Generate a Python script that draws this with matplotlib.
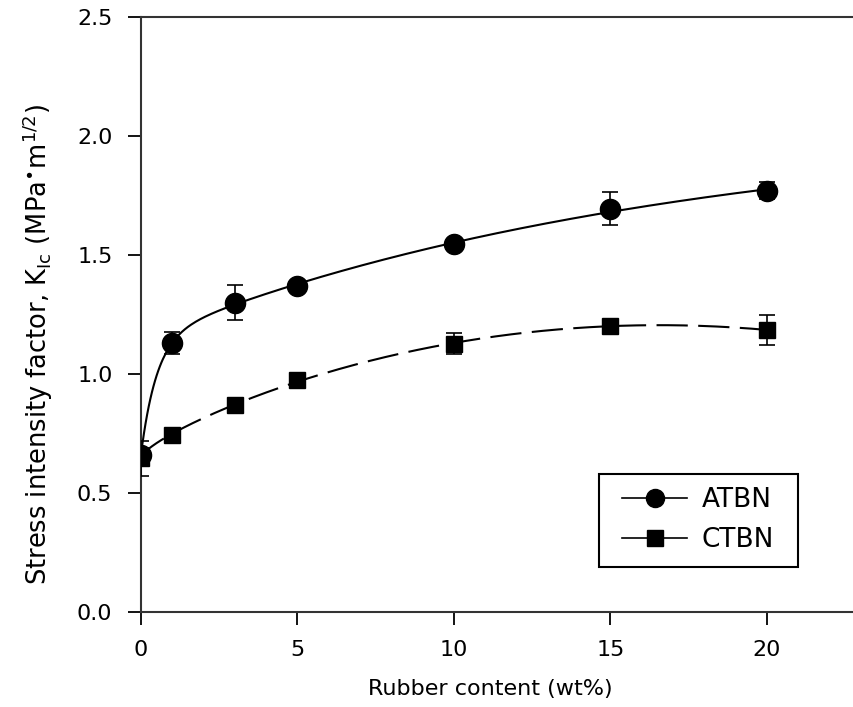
import numpy as np
import matplotlib
matplotlib.use("Agg")
import matplotlib.pyplot as plt
from matplotlib.patches import Rectangle

# rubber content (wt%)
rubber = [0, 1, 3, 5, 10, 15, 20]

# K_Ic values
atbn = [0.66, 1.13, 1.30, 1.37, 1.545, 1.695, 1.77]
atbn_err = [0.03, 0.045, 0.075, 0.02, 0.02, 0.07, 0.035]
ctbn = [0.645, 0.745, 0.87, 0.975, 1.127, 1.20, 1.186]
ctbn_err = [0.075, 0.02, 0.02, 0.02, 0.045, 0.02, 0.063]


def fit_rise(x, y):
    # double exponential rise to max: y0 + a(1-exp(-bx)) + c(1-exp(-dx))
    # rates by grid search, amplitudes by linear least squares
    x = np.asarray(x, dtype=float)
    y = np.asarray(y, dtype=float)
    best = None
    for b in np.linspace(0.3, 5, 95):
        for d in np.linspace(0.01, 0.3, 59):
            A = np.column_stack([np.ones_like(x), 1 - np.exp(-b * x), 1 - np.exp(-d * x)])
            coef, *_ = np.linalg.lstsq(A, y, rcond=None)
            err = np.sum((A @ coef - y) ** 2)
            if best is None or err < best[0]:
                best = (err, b, d, coef)
    _, b, d, coef = best
    xs = np.linspace(0, x.max(), 400)
    A = np.column_stack([np.ones_like(xs), 1 - np.exp(-b * xs), 1 - np.exp(-d * xs)])
    return xs, A @ coef


def fit_poly(x, y):
    # least squares trend line: a + b*sqrt(x) + c*x + d*x^2
    def basis(v):
        v = np.asarray(v, dtype=float)
        return np.column_stack([np.ones_like(v), np.sqrt(v), v, v ** 2])
    coef, *_ = np.linalg.lstsq(basis(x), np.asarray(y), rcond=None)
    xs = np.linspace(0, max(x), 400)
    return xs, basis(xs) @ coef


plt.rcParams["font.family"] = "DejaVu Sans"

fig = plt.figure(figsize=(8.54, 7.07), dpi=100)
ax = fig.add_axes([0.165, 0.1344, 0.843, 0.8416])

lw = 1.5
xs, ys = fit_rise(rubber, atbn)
ax.plot(xs, ys, color="black", lw=lw)
xs, ys = fit_poly(rubber, ctbn)
ax.plot(xs, ys, color="black", lw=lw, dashes=(15, 5))

ax.errorbar(rubber, atbn, yerr=atbn_err, fmt="o", color="black", ms=14.5,
            capsize=6, elinewidth=1.2, capthick=1.2, zorder=3)
ax.errorbar(rubber, ctbn, yerr=ctbn_err, fmt="s", color="black", ms=12,
            capsize=6, elinewidth=1.2, capthick=1.2, zorder=3)

# legend handles: line with marker in the middle
h1, = ax.plot([], [], "-o", color="black", lw=1.2, ms=13)
h2, = ax.plot([], [], "-s", color="black", lw=1.2, ms=11)
leg = ax.legend([h1, h2], ["ATBN", "CTBN"], loc="center",
                bbox_to_anchor=(0.774, 0.154), borderaxespad=0,
                fontsize=19, frameon=False, handlelength=2.46,
                handletextpad=0.53, labelspacing=0.52, borderpad=0.2,
                numpoints=1)
ax.add_patch(Rectangle((0.636, 0.0756), 0.2765, 0.156, transform=ax.transAxes,
                       fill=False, edgecolor="black", lw=1.5, zorder=4))

ax.set_xlim(0, 23)
ax.set_ylim(0, 2.5)
ax.set_xticks([0, 5, 10, 15, 20])
ax.set_yticks([0.0, 0.5, 1.0, 1.5, 2.0, 2.5])
ax.set_yticklabels(["0.0", "0.5", "1.0", "1.5", "2.0", "2.5"])

ax.spines["right"].set_visible(False)
for sp in ["left", "top", "bottom"]:
    ax.spines[sp].set_linewidth(1.5)
    ax.spines[sp].set_color("#333333")

ax.tick_params(axis="both", direction="out", length=9.5, width=1.3,
               labelsize=16)
ax.tick_params(axis="y", pad=11)
ax.tick_params(axis="x", pad=11)

ax.set_xlabel("Rubber content (wt%)", fontsize=16)
ax.xaxis.set_label_coords(0.485, -0.113)
ax.set_ylabel(r"Stress intensity factor, K$_{\rm Ic}$ (MPa$^{\bullet}$m$^{1/2}$)",
              fontsize=18.5)
ax.yaxis.set_label_coords(-0.12, 0.449)

fig.savefig("out.png", dpi=100)
